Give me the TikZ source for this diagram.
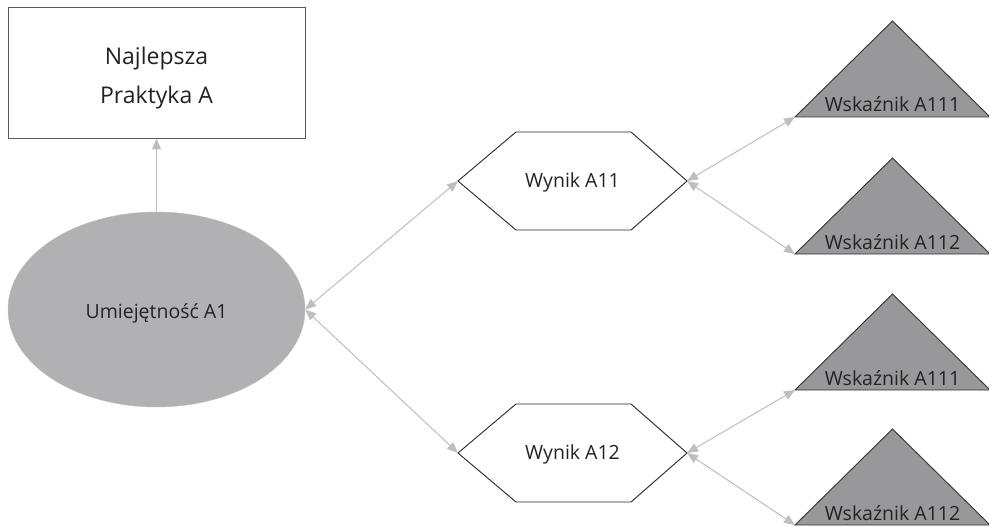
\documentclass[tikz,border=0pt]{standalone}
\usepackage{fontspec}
\setmainfont{Open Sans}
\usetikzlibrary{arrows.meta,shapes.geometric}

\definecolor{linegray}{RGB}{190,190,192}
\definecolor{ovalgray}{RGB}{177,177,179}
\definecolor{trigray}{RGB}{152,152,154}
\definecolor{textgray}{RGB}{35,35,35}

\tikzset{
	conn/.style={linegray,line width=1pt,{Triangle[length=11pt,width=9pt]}-{Triangle[length=11pt,width=9pt]}},
	lbl/.style={text=textgray,font=\fontsize{19.5}{23}\selectfont,inner sep=0pt},
	biglbl/.style={text=textgray,font=\fontsize{23}{38}\selectfont,inner sep=0pt},
	hexline/.style={draw=black!85,line width=0.9pt,fill=white},
	triline/.style={draw=black!80,line width=0.9pt,fill=trigray}
}

\begin{document}
\begin{tikzpicture}[x=1pt,y=-1pt]
	\useasboundingbox (0,0) rectangle (989,527);

	\node[draw=black!65,line width=0.9pt,minimum width=297pt,minimum height=131pt] (best) at (156.5,72.5) {};
	\node[biglbl,anchor=base] (best-a) at (156.5,65) {Najlepsza};
	\node[biglbl,anchor=base] (best-b) at (156.5,103) {Praktyka A};
	\node[ellipse,draw=linegray,fill=ovalgray,minimum width=297pt,minimum height=195pt] (skill) at (156.5,309.5) {};
	\node[lbl,anchor=base] (skill-t) at (156.5,318) {Umiejętność A1};

	% wyniki
	\foreach \n/\y/\t in {w1/181/Wynik A11,w2/453/Wynik A12}
	{
		\draw[hexline] (458,\y) -- (516,\y-49) -- (631,\y-49) -- (687,\y) -- (631,\y+49) -- (516,\y+49) -- cycle;
		\node[lbl,anchor=base] (\n) at (572.5,\y+6) {\t};
		\coordinate (\n-l) at (458,\y);
		\coordinate (\n-r) at (687,\y);
	}

	% wskazniki
	\foreach \n/\y/\t in {k1/117/Wskaźnik A111,k2/254/Wskaźnik A112,k3/390/Wskaźnik A111,k4/525/Wskaźnik A112}
	{
		\draw[triline] (795,\y) -- (892.5,\y-96) -- (990,\y) -- cycle;
		\node[lbl,anchor=base] (\n) at (892.5,\y-5) {\t};
		\coordinate (\n-l) at (795,\y);
	}

	\draw[linegray,line width=1pt,-{Triangle[length=11pt,width=9pt]}] (skill.north) -- (best.south);
	\draw[conn] (skill.east) -- (w1-l);
	\draw[conn] (skill.east) -- (w2-l);
	\draw[conn] (w1-r) -- (k1-l);
	\draw[conn] (w1-r) -- (k2-l);
	\draw[conn] (w2-r) -- (k3-l);
	\draw[conn] (w2-r) -- (k4-l);
\end{tikzpicture}
\end{document}
